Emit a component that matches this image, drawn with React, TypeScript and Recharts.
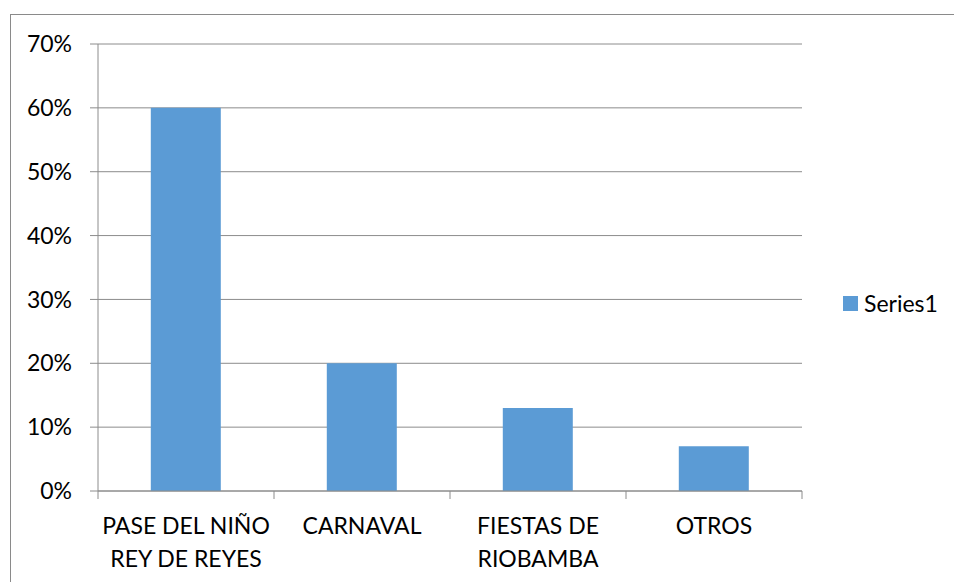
import React from "react";
import { BarChart, Bar, XAxis, YAxis, CartesianGrid, Legend } from "recharts";

const categories = ["PASE DEL NIÑO\nREY DE REYES", "CARNAVAL", "FIESTAS DE\nRIOBAMBA", "OTROS"];
const series1 = [0.6, 0.2, 0.13, 0.07];
const yTicks = [0, 0.1, 0.2, 0.3, 0.4, 0.5, 0.6, 0.7];
const seriesName = "Series1";

const FONT = "Lato, 'Open Sans', sans-serif";
const GRID = "#8c8c8c";
const BAR = "#5b9bd5";

const data = categories.map((c, i) => ({ name: c, value: series1[i] }));

function CategoryTick(props: any) {
  const { x, y, payload, index, visibleTicksCount, width } = props;
  const band = width / visibleTicksCount;
  const lines = String(payload.value).split("\n");
  return (
    <g>
      <line x1={x - band / 2} y1={y} x2={x - band / 2} y2={y + 8} stroke={GRID} />
      {index === visibleTicksCount - 1 && (
        <line x1={x + band / 2} y1={y} x2={x + band / 2} y2={y + 8} stroke={GRID} />
      )}
      <text x={x} y={y} textAnchor="middle" fontFamily={FONT} fontSize={23} fill="#000">
        {lines.map((l, i) => (
          <tspan key={i} x={x} dy={i === 0 ? 43 : 33}>
            {l}
          </tspan>
        ))}
      </text>
    </g>
  );
}

function LegendContent(props: any) {
  const item = props.payload && props.payload[0];
  return (
    <div style={{ display: "flex", alignItems: "center", fontFamily: FONT, fontSize: 23, color: "#000" }}>
      <span style={{ width: 15, height: 15, background: item ? item.color : BAR, marginRight: 6 }} />
      <span>{item ? item.value : seriesName}</span>
    </div>
  );
}

export default function App() {
  return (
    <div style={{ position: "absolute", left: 0, top: 0, width: 954, height: 582, overflow: "hidden", background: "#fff" }}>
      <div
        style={{
          position: "absolute",
          left: 10,
          top: 14,
          width: 1100,
          height: 800,
          border: "1px solid #8a8a8a",
        }}
      />
      <div style={{ position: "absolute", left: 0, top: 0 }}>
        <BarChart
          width={954}
          height={582}
          data={data}
          margin={{ top: 44, right: 42, bottom: 0, left: 0 }}
          barCategoryGap="30%"
        >
          <CartesianGrid vertical={false} stroke={GRID} />
          <XAxis
            dataKey="name"
            height={91}
            axisLine={{ stroke: GRID }}
            tickLine={false}
            tickSize={0}
            tickMargin={0}
            interval={0}
            tick={<CategoryTick />}
          />
          <YAxis
            width={98}
            domain={[0, 0.7]}
            ticks={yTicks}
            tickFormatter={(v: number) => `${Math.round(v * 100)}%`}
            axisLine={{ stroke: GRID }}
            tickLine={{ stroke: GRID }}
            tickSize={8}
            tickMargin={18}
            tick={{ fontFamily: FONT, fontSize: 23, fill: "#000" }}
          />
          <Legend
            layout="vertical"
            align="right"
            verticalAlign="middle"
            wrapperStyle={{ left: 843, right: "auto", top: 289, width: 110 }}
            content={<LegendContent />}
          />
          <Bar dataKey="value" name={seriesName} fill={BAR} isAnimationActive={false} />
        </BarChart>
      </div>
    </div>
  );
}
